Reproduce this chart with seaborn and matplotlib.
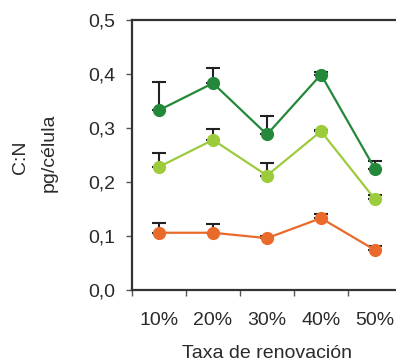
import matplotlib
matplotlib.use("Agg")
import matplotlib.pyplot as plt
import seaborn as sns
import pandas as pd
import numpy as np

# Renewal rates (categories)
taxas = ["10%", "20%", "30%", "40%", "50%"]

# Mean values per series (pg/célula)
serie_escura = [0.333, 0.383, 0.288, 0.399, 0.224]
serie_clara = [0.228, 0.278, 0.212, 0.294, 0.168]
serie_laranja = [0.106, 0.106, 0.096, 0.133, 0.074]

# Upper error (standard deviation) per series
erro_escura = [0.053, 0.029, 0.035, 0.005, 0.014]
erro_clara = [0.025, 0.020, 0.024, 0.002, 0.007]
erro_laranja = [0.018, 0.016, 0.004, 0.008, 0.007]

y_ticks = [0.0, 0.1, 0.2, 0.3, 0.4, 0.5]
y_tick_labels = ["0,0", "0,1", "0,2", "0,3", "0,4", "0,5"]

cores = {"escura": "#23883a", "clara": "#9ccb3c", "laranja": "#ea6a2c"}

series = {"escura": (serie_escura, erro_escura),
          "clara": (serie_clara, erro_clara),
          "laranja": (serie_laranja, erro_laranja)}

linhas = []
for nome, (vals, _) in series.items():
    for i, v in enumerate(vals):
        linhas.append({"pos": i, "valor": v, "serie": nome})
df = pd.DataFrame(linhas)

sns.set_style("ticks")
plt.rcParams["font.family"] = ["Liberation Sans", "DejaVu Sans"]

fig = plt.figure(figsize=(3.96, 3.64), dpi=100)
ax = fig.add_axes([132 / 396, 1 - 290 / 364, 270 / 396, 270 / 364])

# Upper error bars sit behind the markers
for nome, (vals, err) in series.items():
    ax.errorbar(range(len(vals)), vals, yerr=[np.zeros(len(err)), err],
                fmt="none", ecolor="#222222", elinewidth=1.5, capsize=5,
                capthick=1.5, zorder=2)

sns.lineplot(data=df, x="pos", y="valor", hue="serie", palette=cores,
             marker="o", markersize=9.5, markeredgewidth=0, linewidth=1.6,
             legend=False, ax=ax, zorder=3)

ax.set_xlim(-0.5, 4.5)
ax.set_ylim(0, 0.5)
ax.set_yticks(y_ticks)
ax.set_yticklabels(y_tick_labels)
ax.set_xticks(range(len(taxas)))
ax.set_xticklabels(taxas)
ax.set_xticks(np.arange(-0.5, 4.6, 1.0), minor=True)
ax.tick_params(axis="x", which="major", length=0, pad=16, labelsize=14,
               labelcolor="#2a2a2a")
ax.tick_params(axis="x", which="minor", length=4, width=1, color="#555555")
ax.tick_params(axis="y", which="major", length=4, width=1, color="#555555",
               pad=8, labelsize=14, labelcolor="#2a2a2a")

for s in ax.spines.values():
    s.set_linewidth(1.6)
    s.set_color("#333333")

ax.set_xlabel("Taxa de renovación", fontsize=14, color="#2a2a2a", labelpad=11)
ax.set_ylabel("")
fig.text(20 / 396, 1 - 157 / 364, "C:N", rotation=90, ha="center",
         va="center", fontsize=14, color="#2a2a2a")
fig.text(49 / 396, 1 - 153 / 364, "pg/célula", rotation=90, ha="center",
         va="center", fontsize=14, color="#2a2a2a")

fig.savefig("out.png", dpi=100, facecolor="white")
